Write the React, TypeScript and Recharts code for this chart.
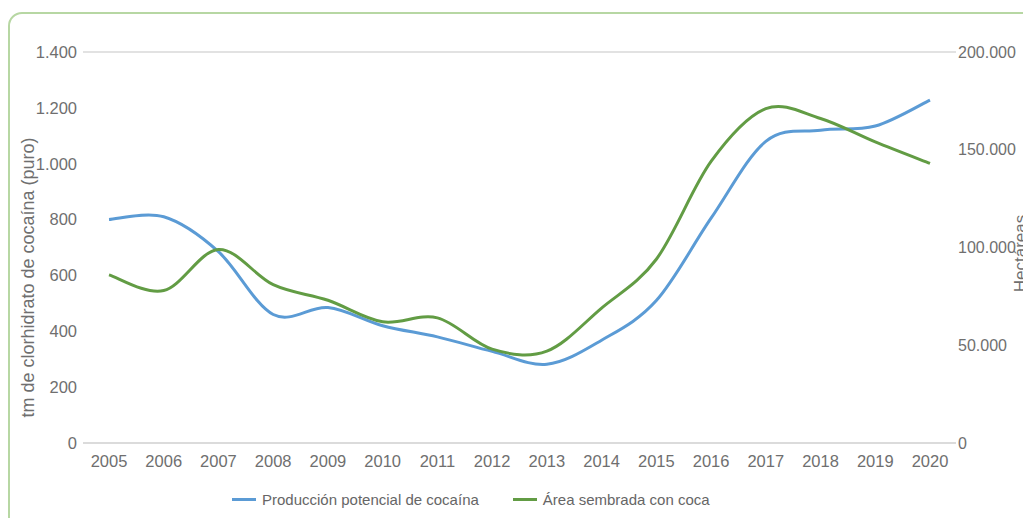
import {
  LineChart,
  Line,
  XAxis,
  YAxis,
  CartesianGrid,
  Legend,
  Label,
} from 'recharts';

const years = ['2005', '2006', '2007', '2008', '2009', '2010', '2011', '2012', '2013', '2014', '2015', '2016', '2017', '2018', '2019', '2020'];
const produccion = [800, 810, 685, 460, 485, 420, 380, 328, 282, 368, 510, 805, 1080, 1120, 1135, 1228];
const area = [86000, 78000, 99000, 81000, 73000, 62000, 64000, 48000, 47000, 69000, 94000, 144000, 171000, 166000, 154000, 143000];
const leftTicks = [0, 200, 400, 600, 800, 1000, 1200, 1400];
const rightTicks = [0, 50000, 100000, 150000, 200000];

const BLUE = '#5b9bd5';
const GREEN = '#629c44';
const TEXT = '#6f6f6f';
const FONT = '"Liberation Sans", Arial, sans-serif';

const data = years.map((year, i) => ({ year, produccion: produccion[i], area: area[i] }));

const fmt = (v: number) => String(v).replace(/\B(?=(\d{3})+(?!\d))/g, '.');

// Excel-style smoothed line (Catmull-Rom as cubic bezier)
function smoothCurve(context: any) {
  let pts: number[][] = [];
  return {
    areaStart() {},
    areaEnd() {},
    lineStart() {
      pts = [];
    },
    point(x: number, y: number) {
      pts.push([+x, +y]);
    },
    lineEnd() {
      if (!pts.length) return;
      context.moveTo(pts[0][0], pts[0][1]);
      for (let i = 0; i < pts.length - 1; i++) {
        const p0 = pts[i - 1] || pts[i];
        const p1 = pts[i];
        const p2 = pts[i + 1];
        const p3 = pts[i + 2] || p2;
        context.bezierCurveTo(
          p1[0] + (p2[0] - p0[0]) / 6,
          p1[1] + (p2[1] - p0[1]) / 6,
          p2[0] - (p3[0] - p1[0]) / 6,
          p2[1] - (p3[1] - p1[1]) / 6,
          p2[0],
          p2[1],
        );
      }
    },
  };
}

const legendItems = [
  { name: 'Producción potencial de cocaína', color: BLUE },
  { name: 'Área sembrada con coca', color: GREEN },
];

const renderLegend = () => (
  <div style={{ display: 'flex', alignItems: 'center', height: 24, fontFamily: FONT, fontSize: 15, color: '#666' }}>
    {legendItems.map((item, i) => (
      <div key={item.name} style={{ display: 'flex', alignItems: 'center', marginRight: i === 0 ? 34 : 0 }}>
        <span style={{ display: 'inline-block', width: 24, height: 3, background: item.color, marginRight: 6 }} />
        <span>{item.name}</span>
      </div>
    ))}
  </div>
);

const tickStyle = { fill: TEXT, fontSize: 16.5, fontFamily: FONT };

export default function App() {
  return (
    <div style={{ position: 'relative', width: 1023, height: 510, overflow: 'hidden' }}>
      <div
        style={{
          position: 'absolute',
          left: 0,
          top: 4,
          width: 1100,
          height: 600,
          border: '2px solid #b7d7a3',
          borderRadius: 14,
          boxSizing: 'border-box',
        }}
      />
      <div style={{ position: 'absolute', left: 0, top: 0 }}>
        <LineChart width={1023} height={510} data={data} margin={{ top: 44, right: 0, bottom: 21, left: 0 }}>
          <CartesianGrid vertical={false} stroke="#d9d9d9" strokeWidth={1.5} />
          <XAxis
            dataKey="year"
            padding={{ left: 26, right: 26 }}
            axisLine={{ stroke: '#d9d9d9', strokeWidth: 1.5 }}
            tickLine={false}
            tickMargin={6}
            height={30}
            interval={0}
            tick={tickStyle}
          />
          <YAxis
            yAxisId="left"
            domain={[0, 1400]}
            ticks={leftTicks}
            width={75}
            axisLine={false}
            tickLine={false}
            tickMargin={0}
            tickFormatter={fmt}
            tick={tickStyle}
          >
            <Label
              value="tm de clorhidrato de cocaína (puro)"
              angle={-90}
              position="insideLeft"
              offset={20}
              dy={30}
              style={{ textAnchor: 'middle', fill: TEXT, fontSize: 18, fontFamily: FONT }}
            />
          </YAxis>
          <YAxis
            yAxisId="right"
            orientation="right"
            domain={[0, 200000]}
            ticks={rightTicks}
            width={75}
            axisLine={false}
            tickLine={false}
            tickSize={0}
            tickMargin={2}
            tickFormatter={fmt}
            tick={{ ...tickStyle, fontSize: 16 }}
          >
            <Label
              value="Hectáreas"
              angle={-90}
              position="insideRight"
              offset={11}
              dy={6}
              style={{ textAnchor: 'middle', fill: TEXT, fontSize: 17, fontFamily: FONT }}
            />
          </YAxis>
          <Legend
            verticalAlign="bottom"
            content={renderLegend}
            wrapperStyle={{ left: 224, top: 479, width: 'auto', height: 24 }}
          />
          <Line
            yAxisId="left"
            dataKey="produccion"
            name="Producción potencial de cocaína"
            type={smoothCurve as any}
            stroke={BLUE}
            strokeWidth={3}
            dot={false}
            isAnimationActive={false}
          />
          <Line
            yAxisId="right"
            dataKey="area"
            name="Área sembrada con coca"
            type={smoothCurve as any}
            stroke={GREEN}
            strokeWidth={3}
            dot={false}
            isAnimationActive={false}
          />
        </LineChart>
      </div>
    </div>
  );
}
